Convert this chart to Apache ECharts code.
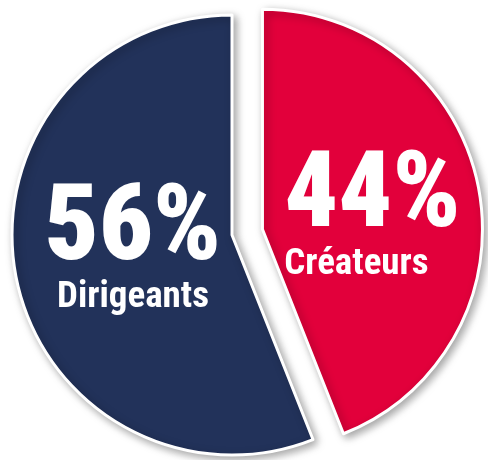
<!DOCTYPE html>
<html><head><meta charset="utf-8">
<script src="https://cdn.jsdelivr.net/npm/echarts@6/dist/echarts.min.js"></script>
<style>html,body{margin:0;padding:0;background:#fff}#c{width:488px;height:460px}</style>
</head><body><div id="c"></div>
<script>
const categories = ['Créateurs', 'Dirigeants'];
const values = [44, 56];
const colors = ['#E2003B', '#22325A'];
const exploded = [true, false];

const FONT = '"Roboto Condensed", "Liberation Sans Narrow", Roboto, sans-serif';
const big = { fontSize: 106, fontWeight: 900, color: '#fff', fontFamily: FONT, lineHeight: 92 };
const small = { fontSize: 37, fontWeight: 'bold', color: '#fff', fontFamily: FONT, lineHeight: 40 };
const chart = echarts.init(document.getElementById('c'));
chart.setOption({
  animation: false,
  series: [{
    type: 'pie',
    center: [232, 235],
    radius: [0, 220],
    startAngle: 90,
    clockwise: true,
    selectedMode: 'single',
    selectedOffset: 31,
    avoidLabelOverlap: false,
    emphasis: { disabled: true },
    itemStyle: {
      borderColor: '#ffffff', borderWidth: 3,
      shadowBlur: 8, shadowColor: 'rgba(0,0,0,0.35)', shadowOffsetX: 3, shadowOffsetY: 3
    },
    label: {
      show: true, position: 'inside', color: '#fff', fontFamily: FONT,
      formatter: p => '{big|' + p.value + '%}\n{small|' + p.name + '}',
      rich: { big: big, small: small }
    },
    labelLayout: p => (p.dataIndex === 1 ? { dx: 12, dy: -4 } : { dx: -1, dy: 11 }),
    labelLine: { show: false },
    data: categories.map((c, i) => ({
      name: c, value: values[i], selected: exploded[i],
      itemStyle: { color: colors[i] },
      label: i === 0 ? { rich: { big: big, small: Object.assign({}, small, { align: 'left' }) } } : {},
      select: { itemStyle: { color: colors[i], borderColor: '#ffffff', borderWidth: 3 } }
    }))
  }]
});
</script></body></html>
